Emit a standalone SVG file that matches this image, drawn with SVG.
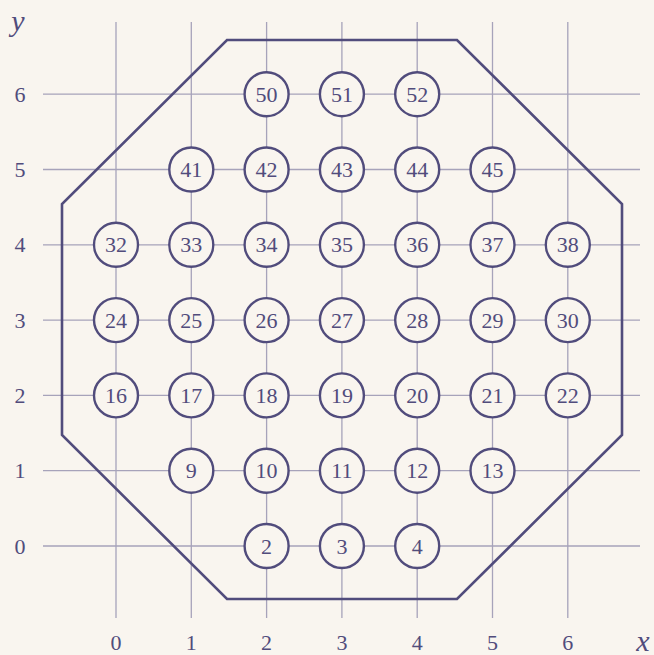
<svg xmlns="http://www.w3.org/2000/svg" width="654" height="655" viewBox="0 0 654 655">
<style>
.grid{stroke:#a7a3ba;stroke-width:1.3;fill:none}
.oct{stroke:#514c7c;stroke-width:2.6;fill:none;stroke-linejoin:miter}
.node circle{fill:#f9f5ef;stroke:#514c7c;stroke-width:2.4}
.node text,.lbl{font-family:"Liberation Serif","DejaVu Serif",serif;font-size:22px;fill:#514c7c;text-anchor:middle;dominant-baseline:central}
.ax{font-family:"Liberation Serif","DejaVu Serif",serif;font-style:italic;font-size:30px;fill:#514c7c;text-anchor:middle;dominant-baseline:central}
</style>
<rect width="654" height="655" fill="#f9f5ef"/>
<g id="grid" class="grid">
<path d="M116,22V618M191.3,22V618M266.6,22V618M341.9,22V618M417.2,22V618M492.5,22V618M567.8,22V618"/>
<path d="M43,546H640M43,470.7H640M43,395.4H640M43,320.1H640M43,244.8H640M43,169.5H640M43,94.2H640"/>
</g>
<g id="connectors">
<polygon class="oct" points="227,40 457,40 622,204 622,435 457,599 227,599 62,435 62,204"/>
</g>
<g id="axes">
<text class="ax" x="18" y="20">y</text>
<text class="ax" x="643" y="640">x</text>
<text class="lbl" x="116" y="642">0</text><text class="lbl" x="191.3" y="642">1</text><text class="lbl" x="266.6" y="642">2</text><text class="lbl" x="341.9" y="642">3</text><text class="lbl" x="417.2" y="642">4</text><text class="lbl" x="492.5" y="642">5</text><text class="lbl" x="567.8" y="642">6</text>
<text class="lbl" x="20" y="546">0</text><text class="lbl" x="20" y="470.7">1</text><text class="lbl" x="20" y="395.4">2</text><text class="lbl" x="20" y="320.1">3</text><text class="lbl" x="20" y="244.8">4</text><text class="lbl" x="20" y="169.5">5</text><text class="lbl" x="20" y="94.2">6</text>
</g>
<g id="n50" class="node"><circle cx="266.6" cy="94.2" r="22"/><text x="266.6" y="94.2">50</text></g>
<g id="n51" class="node"><circle cx="341.9" cy="94.2" r="22"/><text x="341.9" y="94.2">51</text></g>
<g id="n52" class="node"><circle cx="417.2" cy="94.2" r="22"/><text x="417.2" y="94.2">52</text></g>
<g id="n41" class="node"><circle cx="191.3" cy="169.5" r="22"/><text x="191.3" y="169.5">41</text></g>
<g id="n42" class="node"><circle cx="266.6" cy="169.5" r="22"/><text x="266.6" y="169.5">42</text></g>
<g id="n43" class="node"><circle cx="341.9" cy="169.5" r="22"/><text x="341.9" y="169.5">43</text></g>
<g id="n44" class="node"><circle cx="417.2" cy="169.5" r="22"/><text x="417.2" y="169.5">44</text></g>
<g id="n45" class="node"><circle cx="492.5" cy="169.5" r="22"/><text x="492.5" y="169.5">45</text></g>
<g id="n32" class="node"><circle cx="116" cy="244.8" r="22"/><text x="116" y="244.8">32</text></g>
<g id="n33" class="node"><circle cx="191.3" cy="244.8" r="22"/><text x="191.3" y="244.8">33</text></g>
<g id="n34" class="node"><circle cx="266.6" cy="244.8" r="22"/><text x="266.6" y="244.8">34</text></g>
<g id="n35" class="node"><circle cx="341.9" cy="244.8" r="22"/><text x="341.9" y="244.8">35</text></g>
<g id="n36" class="node"><circle cx="417.2" cy="244.8" r="22"/><text x="417.2" y="244.8">36</text></g>
<g id="n37" class="node"><circle cx="492.5" cy="244.8" r="22"/><text x="492.5" y="244.8">37</text></g>
<g id="n38" class="node"><circle cx="567.8" cy="244.8" r="22"/><text x="567.8" y="244.8">38</text></g>
<g id="n24" class="node"><circle cx="116" cy="320.1" r="22"/><text x="116" y="320.1">24</text></g>
<g id="n25" class="node"><circle cx="191.3" cy="320.1" r="22"/><text x="191.3" y="320.1">25</text></g>
<g id="n26" class="node"><circle cx="266.6" cy="320.1" r="22"/><text x="266.6" y="320.1">26</text></g>
<g id="n27" class="node"><circle cx="341.9" cy="320.1" r="22"/><text x="341.9" y="320.1">27</text></g>
<g id="n28" class="node"><circle cx="417.2" cy="320.1" r="22"/><text x="417.2" y="320.1">28</text></g>
<g id="n29" class="node"><circle cx="492.5" cy="320.1" r="22"/><text x="492.5" y="320.1">29</text></g>
<g id="n30" class="node"><circle cx="567.8" cy="320.1" r="22"/><text x="567.8" y="320.1">30</text></g>
<g id="n16" class="node"><circle cx="116" cy="395.4" r="22"/><text x="116" y="395.4">16</text></g>
<g id="n17" class="node"><circle cx="191.3" cy="395.4" r="22"/><text x="191.3" y="395.4">17</text></g>
<g id="n18" class="node"><circle cx="266.6" cy="395.4" r="22"/><text x="266.6" y="395.4">18</text></g>
<g id="n19" class="node"><circle cx="341.9" cy="395.4" r="22"/><text x="341.9" y="395.4">19</text></g>
<g id="n20" class="node"><circle cx="417.2" cy="395.4" r="22"/><text x="417.2" y="395.4">20</text></g>
<g id="n21" class="node"><circle cx="492.5" cy="395.4" r="22"/><text x="492.5" y="395.4">21</text></g>
<g id="n22" class="node"><circle cx="567.8" cy="395.4" r="22"/><text x="567.8" y="395.4">22</text></g>
<g id="n9" class="node"><circle cx="191.3" cy="470.7" r="22"/><text x="191.3" y="470.7">9</text></g>
<g id="n10" class="node"><circle cx="266.6" cy="470.7" r="22"/><text x="266.6" y="470.7">10</text></g>
<g id="n11" class="node"><circle cx="341.9" cy="470.7" r="22"/><text x="341.9" y="470.7">11</text></g>
<g id="n12" class="node"><circle cx="417.2" cy="470.7" r="22"/><text x="417.2" y="470.7">12</text></g>
<g id="n13" class="node"><circle cx="492.5" cy="470.7" r="22"/><text x="492.5" y="470.7">13</text></g>
<g id="n2" class="node"><circle cx="266.6" cy="546" r="22"/><text x="266.6" y="546">2</text></g>
<g id="n3" class="node"><circle cx="341.9" cy="546" r="22"/><text x="341.9" y="546">3</text></g>
<g id="n4" class="node"><circle cx="417.2" cy="546" r="22"/><text x="417.2" y="546">4</text></g>
</svg>
